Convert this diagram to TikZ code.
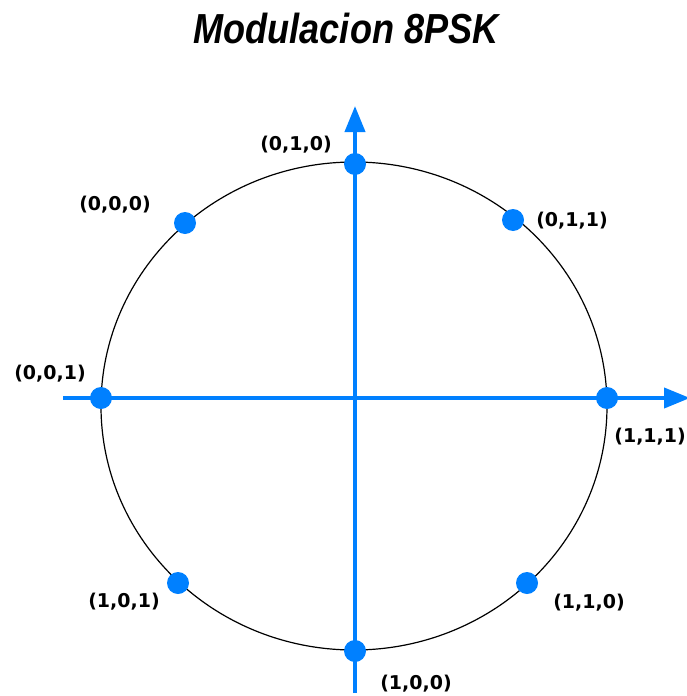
\documentclass[tikz,border=0pt]{standalone}
\usepackage{fontspec}
\setmainfont{Liberation Sans}
\newfontfamily\lblfont{DejaVu Sans}
\usetikzlibrary{arrows.meta}
\definecolor{axblue}{RGB}{0,128,255}
\begin{document}
\begin{tikzpicture}[x=1pt,y=-1pt,
  axis/.style={draw=axblue,line width=4pt,-{Triangle[length=26pt,width=20pt]}},
  pt/.style={circle,fill=axblue,inner sep=0pt,minimum size=22pt},
  lbl/.style={font=\lblfont\bfseries\fontsize{19}{19}\selectfont,inner sep=0pt}]
\useasboundingbox (0,0) rectangle (687,696);
\fill[white] (0,0) rectangle (687,696);
% title
\node[font=\bfseries\itshape\fontsize{42}{42}\selectfont,xscale=0.86,inner sep=0pt] (title) at (346,28) {Modulacion 8PSK};
% circle
\draw[black,line width=1.2pt] (354,406) ellipse [x radius=253pt, y radius=244pt];
% axes
\coordinate (hs) at (63,398);
\coordinate (he) at (690,398);
\coordinate (vs) at (355,693);
\coordinate (ve) at (355,106);
\draw[axis] (hs) -- (he);
\draw[axis] (vs) -- (ve);
% points
\node[pt] (p010) at (355,164) {};
\node[pt] (p000) at (185,223) {};
\node[pt] (p011) at (513,220) {};
\node[pt] (p001) at (101,398) {};
\node[pt] (p111) at (607,398) {};
\node[pt] (p101) at (178,583) {};
\node[pt] (p110) at (527,583) {};
\node[pt] (p100) at (355,651) {};
% labels
\node[lbl] (l010) at (296,145) {(0,1,0)};
\node[lbl] (l000) at (115,205) {(0,0,0)};
\node[lbl] (l011) at (572,221) {(0,1,1)};
\node[lbl] (l001) at (50,374) {(0,0,1)};
\node[lbl,anchor=east] (l111) at (686,437) {(1,1,1)};
\node[lbl] (l101) at (124,602) {(1,0,1)};
\node[lbl] (l110) at (589,603) {(1,1,0)};
\node[lbl] (l100) at (416,684) {(1,0,0)};
\end{tikzpicture}
\end{document}
